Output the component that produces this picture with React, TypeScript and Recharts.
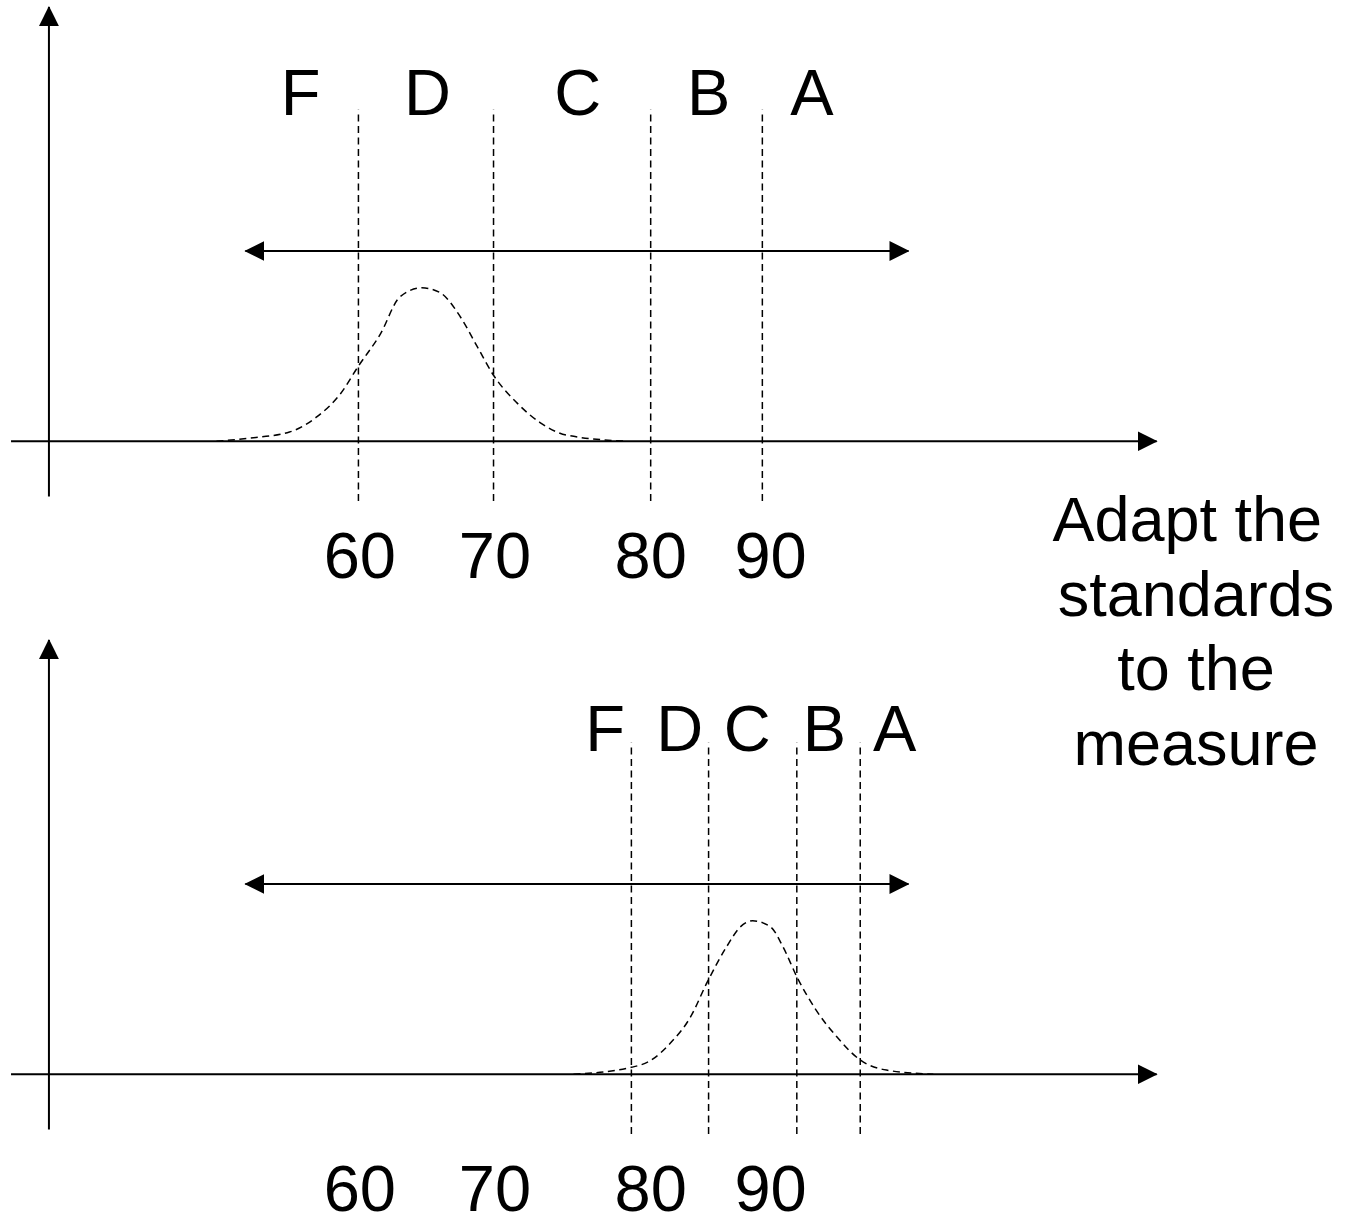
import React from "react";
import { Line, LineChart, ReferenceDot, ReferenceLine, XAxis, YAxis } from "recharts";

const GRADES = ["F", "D", "C", "B", "A"];
const SCORE_LABELS = ["60", "70", "80", "90"];
const SCORE_LABEL_X = [60.1, 69.9, 81.2, 89.9];

// top panel: fixed standards, distribution sits low
const TOP_CUTOFFS = [60, 69.8, 81.2, 89.3];
const TOP_GRADE_X = [55.8, 65.0, 75.9, 85.4, 92.9];
const TOP_CURVE_X = [49.7, 52.1, 55.0, 57.0, 58.7, 60.0, 61.6, 63.0, 64.6, 65.9, 67.4, 68.6, 69.8, 71.5, 73.2, 75.1, 79.5];
const TOP_CURVE_Y = [0, 0.02, 0.06, 0.16, 0.31, 0.49, 0.7, 0.94, 1.0, 0.97, 0.81, 0.62, 0.43, 0.25, 0.12, 0.04, 0];

// bottom panel: standards moved to where the measure falls
const BOTTOM_CUTOFFS = [79.8, 85.4, 91.8, 96.4];
const BOTTOM_GRADE_X = [77.9, 83.3, 88.2, 93.8, 98.9];
const BOTTOM_CURVE_X = [75.6, 79.8, 81.2, 82.6, 84.1, 85.3, 86.7, 87.7, 88.6, 89.9, 90.8, 91.8, 93.2, 94.7, 96.4, 98.3, 101.7];
const BOTTOM_CURVE_Y = [0, 0.045, 0.09, 0.2, 0.375, 0.6, 0.83, 0.96, 1.0, 0.96, 0.83, 0.636, 0.418, 0.244, 0.093, 0.027, 0];

const SPREAD_X = [51.8, 99.9];
const SPREAD_Y = 1.24;
const AXIS_X_RANGE = [34.8, 117.9];
const AXIS_Y_AT = 37.55;
const AXIS_Y_RANGE = [-0.36, 2.83];
const CUTOFF_Y_RANGE = [-0.39, 2.16];
const SCORE_LABEL_Y = -0.74;

const CAPTION = ["Adapt the ", "standards", "to the", "measure"];

const FONT = '"Liberation Sans", Arial, sans-serif';
const W = 1351;
const H = 606;
const X_DOMAIN: [number, number] = [34, 132];
const Y_DOMAIN: [number, number] = [-1.1, 2.85];

const arrowLine = (markerId: string, both: boolean) => (p: any) => (
  <line
    x1={p.x1}
    y1={p.y1}
    x2={p.x2}
    y2={p.y2}
    stroke="#000"
    strokeWidth={2}
    markerEnd={`url(#${markerId})`}
    markerStart={both ? `url(#${markerId})` : undefined}
  />
);

type PanelProps = {
  id: string;
  curveX: number[];
  curveY: number[];
  cutoffs: number[];
  gradeX: number[];
  gradeY: number;
};

function Panel({ id, curveX, curveY, cutoffs, gradeX, gradeY }: PanelProps) {
  const data = curveX.map((x, i) => ({ x, y: curveY[i] }));
  const markerId = `${id}-arrow`;
  const textStyle = { fontSize: 65, fontFamily: FONT, fill: "#000" };

  return (
    <LineChart width={W} height={H} data={data} margin={{ top: 0, right: 0, bottom: 0, left: 0 }}>
      <defs>
        <marker
          id={markerId}
          viewBox="0 0 20 20"
          markerWidth={20}
          markerHeight={20}
          refX={19}
          refY={10}
          orient="auto-start-reverse"
          markerUnits="userSpaceOnUse"
        >
          <path d="M0,0 L20,10 L0,20 Z" fill="#000" />
        </marker>
      </defs>
      <XAxis type="number" dataKey="x" domain={X_DOMAIN} hide allowDataOverflow />
      <YAxis type="number" domain={Y_DOMAIN} hide allowDataOverflow />

      {/* axes */}
      <ReferenceLine
        segment={[{ x: AXIS_X_RANGE[0], y: 0 }, { x: AXIS_X_RANGE[1], y: 0 }]}
        shape={arrowLine(markerId, false)}
      />
      <ReferenceLine
        segment={[{ x: AXIS_Y_AT, y: AXIS_Y_RANGE[0] }, { x: AXIS_Y_AT, y: AXIS_Y_RANGE[1] }]}
        shape={arrowLine(markerId, false)}
      />
      {/* spread of the scale */}
      <ReferenceLine
        segment={[{ x: SPREAD_X[0], y: SPREAD_Y }, { x: SPREAD_X[1], y: SPREAD_Y }]}
        shape={arrowLine(markerId, true)}
      />

      {cutoffs.map((c) => (
        <ReferenceLine
          key={c}
          segment={[{ x: c, y: CUTOFF_Y_RANGE[0] }, { x: c, y: CUTOFF_Y_RANGE[1] }]}
          stroke="#000"
          strokeWidth={1.5}
          strokeDasharray="7 4.5"
        />
      ))}

      <Line
        type="monotone"
        dataKey="y"
        stroke="#000"
        strokeWidth={1.5}
        strokeDasharray="7 4.5"
        dot={false}
        activeDot={false}
        isAnimationActive={false}
      />

      {GRADES.map((g, i) => (
        <ReferenceDot
          key={g}
          x={gradeX[i]}
          y={gradeY}
          r={0}
          fill="none"
          stroke="none"
          label={{ value: g, position: "center", ...textStyle }}
        />
      ))}
      {SCORE_LABELS.map((s, i) => (
        <ReferenceDot
          key={s}
          x={SCORE_LABEL_X[i]}
          y={SCORE_LABEL_Y}
          r={0}
          fill="none"
          stroke="none"
          label={{ value: s, position: "center", ...textStyle }}
        />
      ))}
    </LineChart>
  );
}

export default function App() {
  return (
    <div
      style={{
        position: "absolute",
        left: 0,
        top: 0,
        width: 1351,
        height: 1217,
        overflow: "hidden",
        background: "#fff",
      }}
    >
      <div style={{ position: "absolute", left: 0, top: 4 }}>
        <Panel
          id="top"
          curveX={TOP_CURVE_X}
          curveY={TOP_CURVE_Y}
          cutoffs={TOP_CUTOFFS}
          gradeX={TOP_GRADE_X}
          gradeY={2.28}
        />
      </div>
      <div style={{ position: "absolute", left: 0, top: 637 }}>
        <Panel
          id="bottom"
          curveX={BOTTOM_CURVE_X}
          curveY={BOTTOM_CURVE_Y}
          cutoffs={BOTTOM_CUTOFFS}
          gradeX={BOTTOM_GRADE_X}
          gradeY={2.26}
        />
      </div>
      <div
        style={{
          position: "absolute",
          left: 1046,
          top: 482,
          width: 300,
          textAlign: "center",
          fontFamily: FONT,
          fontSize: 63,
          lineHeight: "74.5px",
          whiteSpace: "pre",
          color: "#000",
        }}
      >
        {CAPTION.join("\n")}
      </div>
    </div>
  );
}
